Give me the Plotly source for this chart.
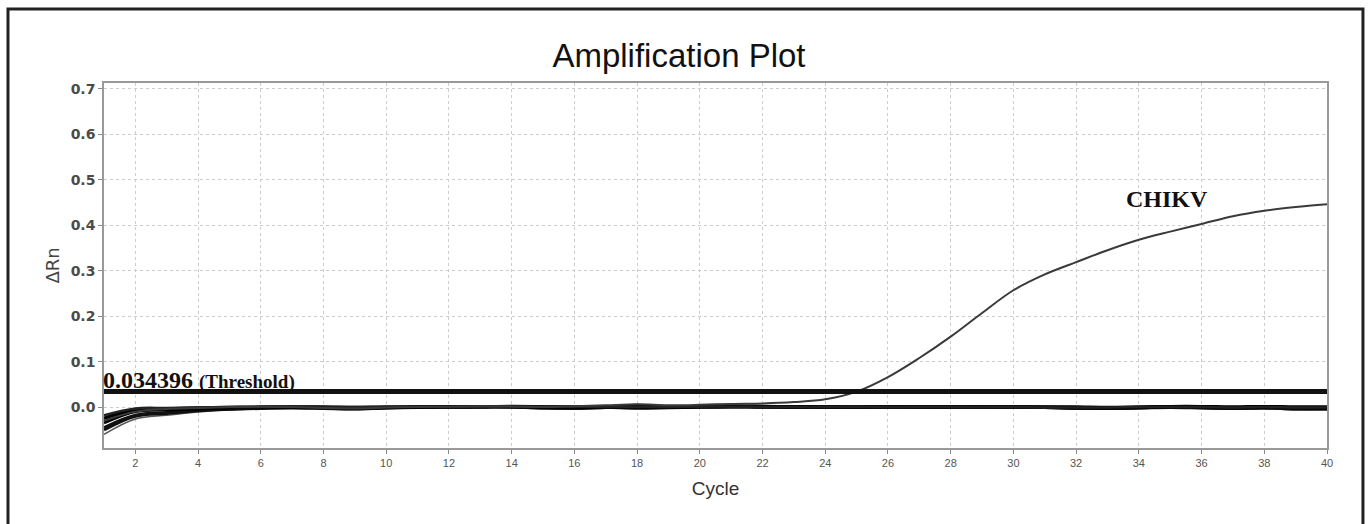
import plotly.graph_objects as go

cycles = list(range(1, 41))
threshold = 0.034396

chikv = [-0.030, -0.010, -0.004, -0.002, 0.000, 0.001, 0.000, -0.002, -0.003, -0.001,
         0.000, 0.001, 0.002, 0.001, 0.000, 0.002, 0.004, 0.006, 0.004, 0.005,
         0.007, 0.008, 0.011, 0.017, 0.034, 0.066, 0.108, 0.155, 0.207, 0.257,
         0.292, 0.319, 0.345, 0.368, 0.386, 0.403, 0.420, 0.432, 0.440, 0.446]

neg_a = [-0.060, -0.026, -0.018, -0.011, -0.006, -0.003, -0.002, -0.004, -0.006, -0.003,
         -0.001, 0.001, 0.002, 0.000, -0.003, -0.004, -0.002, 0.000, -0.002, 0.000,
         0.001, 0.000, -0.001, 0.000, 0.001, 0.000, -0.001, 0.000, 0.000, 0.001,
         -0.002, -0.004, -0.004, -0.003, -0.002, -0.003, -0.004, -0.003, -0.005, -0.005]
neg_b = [-0.045, -0.018, -0.012, -0.007, -0.004, -0.002, -0.001, -0.002, -0.003, -0.002,
         0.000, 0.001, 0.001, 0.000, -0.002, -0.003, -0.001, 0.002, 0.000, 0.001,
         0.002, 0.001, 0.000, 0.000, 0.000, 0.001, 0.000, 0.000, 0.001, 0.000,
         -0.001, -0.002, -0.003, -0.002, 0.000, -0.001, -0.003, -0.002, -0.004, -0.004]
neg_c = [-0.035, -0.010, -0.006, -0.004, -0.002, -0.001, 0.000, -0.001, -0.002, -0.001,
         0.000, 0.000, 0.001, 0.002, 0.001, -0.001, 0.000, 0.004, 0.001, 0.002,
         0.003, 0.002, 0.001, 0.000, -0.001, 0.000, 0.000, 0.000, 0.000, 0.000,
         0.000, -0.001, -0.002, -0.001, 0.001, 0.001, -0.002, 0.000, -0.002, -0.002]
neg_d = [-0.025, -0.006, -0.004, -0.002, -0.001, 0.000, 0.000, 0.000, -0.001, 0.000,
         0.000, 0.000, 0.000, 0.001, 0.000, 0.000, 0.000, -0.002, -0.001, 0.000,
         0.001, 0.000, 0.001, 0.000, 0.000, 0.000, 0.000, 0.000, 0.000, 0.000,
         0.000, 0.000, -0.001, 0.000, 0.001, 0.001, 0.000, 0.001, 0.000, 0.000]
neg_e = [-0.018, -0.003, -0.002, -0.001, 0.000, 0.000, 0.001, 0.000, 0.000, 0.000,
         0.001, 0.000, 0.001, 0.002, 0.001, 0.001, 0.000, 0.000, 0.000, 0.001,
         0.001, 0.000, 0.000, 0.000, 0.000, 0.000, 0.000, 0.000, 0.000, 0.000,
         -0.001, -0.001, -0.001, 0.000, 0.000, 0.000, -0.001, 0.000, -0.001, -0.001]
neg_f = [-0.050, -0.020, -0.014, -0.008, -0.005, -0.003, -0.002, -0.003, -0.004, -0.002,
         -0.001, 0.000, 0.001, 0.000, -0.002, -0.002, -0.001, 0.001, -0.001, 0.000,
         0.000, 0.000, -0.001, 0.000, 0.000, 0.000, 0.000, 0.000, 0.000, 0.000,
         -0.001, -0.003, -0.003, -0.002, -0.001, -0.002, -0.003, -0.002, -0.004, -0.004]

neg_series = [(neg_a, "#555555", 1.5), (neg_f, "#111111", 3), (neg_b, "#111111", 3),
              (neg_c, "#000000", 3), (neg_d, "#000000", 3.5), (neg_e, "#222222", 2.5)]

x_ticks = list(range(2, 41, 2))
y_ticks = [0.0, 0.1, 0.2, 0.3, 0.4, 0.5, 0.6, 0.7]

fig = go.Figure()
for vals, col, w in neg_series:
    fig.add_trace(go.Scatter(x=cycles, y=vals, mode="lines",
                             line=dict(color=col, width=w, shape="spline"),
                             showlegend=False, hoverinfo="skip"))
fig.add_trace(go.Scatter(x=cycles, y=chikv, mode="lines",
                         line=dict(color="#3a3a3a", width=2, shape="spline"),
                         showlegend=False))

fig.add_shape(type="line", xref="x", yref="y", x0=1, x1=40, y0=threshold, y1=threshold,
              line=dict(color="#111111", width=5))

# outer frame
fig.add_shape(type="rect", xref="paper", yref="paper",
              x0=-0.0785, x1=1.0294, y0=-0.30, y1=1.2027,
              line=dict(color="#222222", width=3), layer="below")

fig.add_annotation(x=1, y=threshold, xref="x", yref="y", xanchor="left", yanchor="bottom",
                   yshift=-4, xshift=-3, showarrow=False,
                   text="<b>0.034396</b> <b><span style='font-size:19px'>(Threshold)</span></b>",
                   font=dict(family="Liberation Serif", size=24, color="#111111"))
fig.add_annotation(x=34.9, y=0.458, xref="x", yref="y", showarrow=False,
                   text="<b>CHIKV</b>",
                   font=dict(family="Liberation Serif", size=24, color="#111111"))

fig.update_layout(
    width=1370, height=524,
    margin=dict(l=104, r=43, t=83, b=76),
    paper_bgcolor="white", plot_bgcolor="white",
    title=dict(text="Amplification Plot", x=0.4956, xanchor="center", y=0.895, yanchor="middle",
               font=dict(family="Liberation Sans", size=33, color="#111111")),
    font=dict(family="Liberation Sans", color="#444444"),
)
fig.update_xaxes(range=[1, 40], tickvals=x_ticks, ticks="outside", ticklen=4, tickcolor="#888888",
                 showgrid=True, gridcolor="#cccccc", griddash="dot", gridwidth=1,
                 showline=True, linecolor="#999999", linewidth=1.5, mirror=True,
                 zeroline=False, tickfont=dict(size=11, color="#555555"),
                 title=dict(text="Cycle", font=dict(size=19, color="#333333"), standoff=14))
fig.update_yaxes(range=[-0.09, 0.713], tickvals=y_ticks,
                 ticktext=["<b>%.1f</b>" % v for v in y_ticks],
                 ticks="outside", ticklen=4, tickcolor="#888888",
                 showgrid=True, gridcolor="#cccccc", griddash="dot", gridwidth=1,
                 showline=True, linecolor="#999999", linewidth=1.5, mirror=True,
                 zeroline=False, tickfont=dict(family="DejaVu Sans", size=14, color="#4a4a4a"),
                 title=dict(text="ΔRn", font=dict(family="DejaVu Sans", size=18, color="#444444"),
                            standoff=6))

fig.write_html("out.html", config={"displayModeBar": False},
               post_script="document.body.style.margin='0px';")
